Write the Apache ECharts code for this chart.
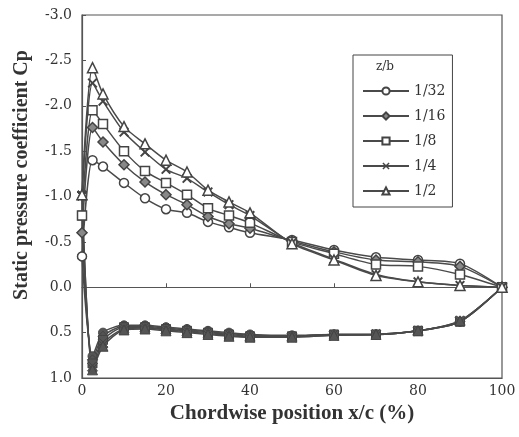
<!DOCTYPE html>
<html>
<head>
<meta charset="utf-8">
<script src="https://cdn.jsdelivr.net/npm/echarts@6/dist/echarts.min.js"></script>
<style>html,body{margin:0;padding:0;background:#fff;}#c{width:519px;height:437px;}</style>
</head>
<body>
<div id="c"></div>
<script>
// ---- data ----
const zbLabels = ['1/32', '1/16', '1/8', '1/4', '1/2'];
const xPos = [0, 2.5, 5, 10, 15, 20, 25, 30, 35, 40, 50, 60, 70, 80, 90, 100];
const xTicks = [0, 20, 40, 60, 80, 100];
const yTicks = [-3.0, -2.5, -2.0, -1.5, -1.0, -0.5, 0.0, 0.5, 1.0];

// upper surface Cp
const upper_1_32 = [-0.34, -1.40, -1.33, -1.15, -0.98, -0.86, -0.82, -0.72, -0.66, -0.60, -0.52, -0.41, -0.33, -0.30, -0.26, 0];
const upper_1_16 = [-0.60, -1.76, -1.60, -1.35, -1.16, -1.02, -0.91, -0.78, -0.70, -0.65, -0.51, -0.39, -0.30, -0.28, -0.23, 0];
const upper_1_8  = [-0.79, -1.95, -1.80, -1.50, -1.28, -1.15, -1.02, -0.87, -0.79, -0.71, -0.50, -0.37, -0.25, -0.23, -0.14, 0];
const upper_1_4  = [-1.01, -2.25, -2.05, -1.71, -1.49, -1.30, -1.20, -1.05, -0.91, -0.79, -0.49, -0.31, -0.14, -0.06, -0.02, 0];
const upper_1_2  = [-1.02, -2.42, -2.13, -1.77, -1.58, -1.40, -1.27, -1.07, -0.94, -0.82, -0.48, -0.30, -0.13, -0.06, -0.02, 0];

// lower surface Cp
const lower_1_32 = [-0.34, 0.76, 0.50, 0.42, 0.42, 0.44, 0.46, 0.48, 0.50, 0.52, 0.53, 0.52, 0.52, 0.48, 0.38, 0];
const lower_1_16 = [-0.60, 0.80, 0.54, 0.43, 0.43, 0.45, 0.47, 0.49, 0.51, 0.53, 0.54, 0.52, 0.52, 0.48, 0.38, 0];
const lower_1_8  = [-0.79, 0.84, 0.58, 0.44, 0.44, 0.46, 0.48, 0.50, 0.52, 0.54, 0.54, 0.52, 0.52, 0.48, 0.38, 0];
const lower_1_4  = [-1.01, 0.88, 0.62, 0.46, 0.45, 0.47, 0.49, 0.51, 0.53, 0.55, 0.55, 0.53, 0.52, 0.48, 0.37, 0];
const lower_1_2  = [-1.02, 0.91, 0.65, 0.47, 0.46, 0.48, 0.50, 0.52, 0.54, 0.55, 0.55, 0.53, 0.52, 0.48, 0.37, 0];

const upperSets = [upper_1_32, upper_1_16, upper_1_8, upper_1_4, upper_1_2];
const lowerSets = [lower_1_32, lower_1_16, lower_1_8, lower_1_4, lower_1_2];

// ---- styles ----
const LINE = '#4a4a4a';
const TXT = '#333';
const crossPath = 'path://M0,1.4 L1.4,0 L5,3.6 L8.6,0 L10,1.4 L6.4,5 L10,8.6 L8.6,10 L5,6.4 L1.4,10 L0,8.6 L3.6,5 Z';
const symbols = ['circle', 'diamond', 'rect', crossPath, 'triangle'];
const sizes = [9, 10, 9, 10, 10];
const upperFill = ['#fff', '#888', '#fff', '#444', '#fff'];

const pairs = (xs, ys) => xs.map((x, i) => [x, ys[i]]);

const series = [];
zbLabels.forEach((name, k) => {
  series.push({
    name: name,
    type: 'line',
    data: pairs(xPos, upperSets[k]),
    smooth: 0.25,
    symbol: symbols[k],
    symbolSize: sizes[k],
    showAllSymbol: true,
    lineStyle: { color: LINE, width: 1.5 },
    itemStyle: { color: upperFill[k], borderColor: '#444', borderWidth: k === 3 ? 0 : 1.5 },
    z: 3
  });
});
zbLabels.forEach((name, k) => {
  series.push({
    name: name + ' lower',
    type: 'line',
    data: pairs(xPos, lowerSets[k]),
    smooth: 0.25,
    symbol: symbols[k],
    symbolSize: sizes[k],
    showAllSymbol: true,
    lineStyle: { color: LINE, width: 1.5 },
    itemStyle: { color: '#555', borderColor: '#444', borderWidth: 1 },
    z: 2
  });
});

const chart = echarts.init(document.getElementById('c'), null, { renderer: 'canvas' });
chart.setOption({
  backgroundColor: '#fff',
  animation: false,
  grid: { left: 82, right: 17, top: 15, bottom: 59, show: true, borderColor: '#555', borderWidth: 1.2, backgroundColor: 'transparent' },
  legend: {
    data: zbLabels,
    orient: 'vertical',
    left: 353, top: 55,
    padding: [29, 7, 9, 9],
    itemWidth: 46, itemHeight: 9, itemGap: 11,
    borderColor: '#444', borderWidth: 1,
    textStyle: { fontFamily: 'DejaVu Serif', fontSize: 14, color: TXT },
    inactiveColor: '#ccc'
  },
  graphic: [
    { type: 'text', left: 376, top: 61, style: { text: 'z/b', font: '12px "DejaVu Serif"', fill: TXT } },
    { type: 'text', x: 22, y: 175, rotation: Math.PI / 2,
      style: { text: 'Static pressure coefficient Cp', font: 'bold 20px "Liberation Serif"', fill: TXT, textAlign: 'center', textVerticalAlign: 'middle' } }
  ],
  xAxis: [
    {
      type: 'value', min: xTicks[0], max: xTicks[xTicks.length - 1], interval: 20,
      position: 'bottom',
      name: 'Chordwise position x/c (%)', nameLocation: 'middle', nameGap: 24,
      nameTextStyle: { fontFamily: 'Liberation Serif', fontWeight: 'bold', fontSize: 21, color: TXT },
      axisLine: { show: true, onZero: false, lineStyle: { color: '#555', width: 1.2 } },
      axisTick: { show: false },
      axisLabel: { color: TXT, fontFamily: 'DejaVu Serif', fontSize: 14, margin: 6 },
      splitLine: { show: false }
    },
    {
      type: 'value', min: xTicks[0], max: xTicks[xTicks.length - 1], interval: 20,
      position: 'top',
      axisLine: { show: true, onZero: true, lineStyle: { color: '#555', width: 1.2 } },
      axisTick: { show: true, length: 4, lineStyle: { color: '#555' } },
      axisLabel: { show: false },
      splitLine: { show: false }
    }
  ],
  yAxis: {
    type: 'value', inverse: true, min: yTicks[0], max: yTicks[yTicks.length - 1], interval: 0.5,
    axisLine: { show: true, lineStyle: { color: '#555', width: 1.2 } },
    axisTick: { show: true, inside: true, length: 4, lineStyle: { color: '#555' } },
    axisLabel: { color: TXT, fontFamily: 'DejaVu Serif', fontSize: 14, margin: 10, formatter: v => v.toFixed(1) },
    splitLine: { show: false }
  },
  series: series
});
</script>
</body>
</html>
